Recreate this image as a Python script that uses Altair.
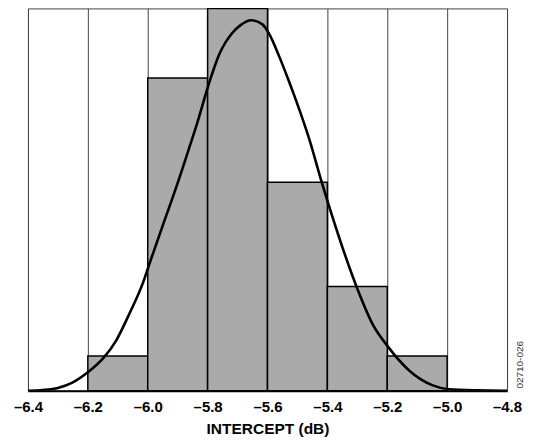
import altair as alt
import pandas as pd

# histogram bins and counts
bin_start = [-6.2, -6.0, -5.8, -5.6, -5.4, -5.2]
bin_end = [-6.0, -5.8, -5.6, -5.4, -5.2, -5.0]
counts = [1, 9, 11, 6, 3, 1]

# fitted distribution curve
curve_x = [-6.40, -6.35, -6.30, -6.25, -6.197, -6.15, -6.105, -6.061, -6.017, -5.994,
           -5.95, -5.905, -5.861, -5.833, -5.797, -5.761, -5.717, -5.69, -5.655, -5.617,
           -5.594, -5.561, -5.53, -5.505, -5.461, -5.419, -5.397, -5.35, -5.298, -5.25,
           -5.197, -5.128, -5.05, -4.994, -4.90, -4.80]
curve_y = [0.00, 0.02, 0.08, 0.24, 0.55, 0.92, 1.45, 2.22, 3.08, 3.66,
           4.75, 5.85, 7.00, 7.75, 8.80, 9.68, 10.30, 10.52, 10.66, 10.54,
           10.26, 9.62, 8.94, 8.36, 7.25, 6.00, 5.38, 4.13, 2.89, 1.93,
           1.26, 0.59, 0.16, 0.04, 0.01, 0.00]

tick_values = [-6.4, -6.2, -6.0, -5.8, -5.6, -5.4, -5.2, -5.0, -4.8]
code_label = ["02710-026"]

bars = pd.DataFrame({"start": bin_start, "end": bin_end, "count": counts})
curve = pd.DataFrame({"x": curve_x, "y": curve_y})
code = pd.DataFrame({"t": code_label})

FONT = "Liberation Sans"

xscale = alt.Scale(domain=[-6.4, -4.8], nice=False, zero=False)
yscale = alt.Scale(domain=[0, 11], nice=False)

xaxis = alt.Axis(
    values=tick_values,
    labelExpr="(datum.value < 0 ? '\u2013' : '') + format(abs(datum.value), '.1f')",
    ticks=False,
    labelPadding=9,
    labelFont=FONT,
    labelFontSize=15,
    labelFontWeight="bold",
    labelColor="black",
    title="INTERCEPT (dB)",
    titleFont=FONT,
    titleFontSize=15.5,
    titleFontWeight="bold",
    titleColor="black",
    titlePadding=7,
    domainColor="black",
    domainWidth=2,
    grid=True,
    gridColor="#444444",
    gridWidth=1,
    gridOpacity=1,
    labelFlush=False,
)

bar_layer = alt.Chart(bars).mark_rect(
    fill="#aaaaaa", stroke="black", strokeWidth=1.5
).encode(
    x=alt.X("start:Q", scale=xscale, axis=xaxis),
    x2="end:Q",
    y=alt.Y("count:Q", scale=yscale, axis=None),
    y2=alt.datum(0),
)

line_layer = alt.Chart(curve).mark_line(
    color="black", strokeWidth=2.6, interpolate="monotone", clip=True
).encode(
    x=alt.X("x:Q", scale=xscale),
    y=alt.Y("y:Q", scale=yscale),
)

code_layer = alt.Chart(code).mark_text(
    font=FONT, fontSize=10, angle=270, color="#333333", align="center", baseline="middle"
).encode(
    x=alt.value(493),
    y=alt.value(357),
    text="t:N",
)

chart = alt.layer(bar_layer, line_layer, code_layer).properties(
    width=480,
    height=383,
    padding={"left": 20, "top": 0, "right": 20, "bottom": 52},
    autosize=alt.AutoSizeParams(type="none"),
    background="white",
).configure_view(
    stroke="#444444", strokeWidth=1
)

chart.save("out.html", embed_options={"renderer": "svg", "actions": False})
